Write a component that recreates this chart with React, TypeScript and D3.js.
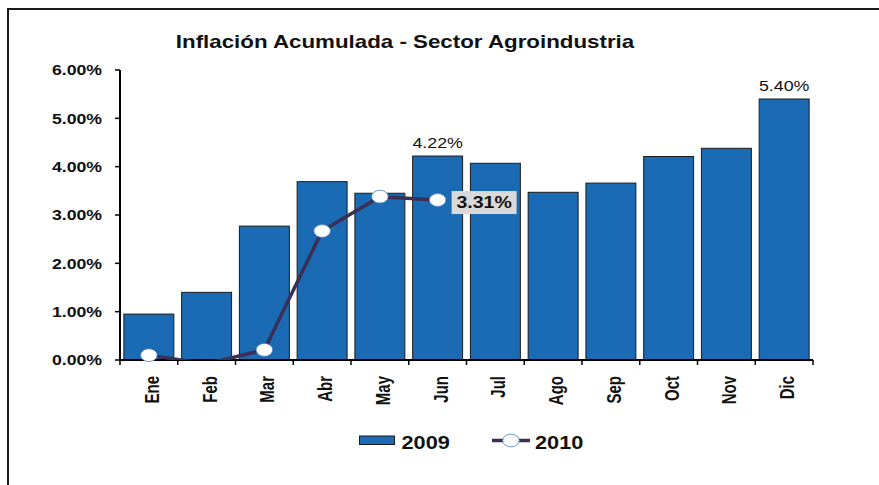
import React from "react";
import * as d3 from "d3";

const months = ["Ene", "Feb", "Mar", "Abr", "May", "Jun", "Jul", "Ago", "Sep", "Oct", "Nov", "Dic"];
const values2009 = [0.95, 1.4, 2.77, 3.69, 3.45, 4.22, 4.07, 3.47, 3.66, 4.21, 4.38, 5.4];
const values2010 = [0.1, -0.08, 0.21, 2.67, 3.38, 3.31];
const yTicks = [0, 1, 2, 3, 4, 5, 6];
const series = ["2009", "2010"];
const title = "Inflación Acumulada - Sector Agroindustria";

const W = 879;
const H = 485;
const FONT = "'Liberation Sans', Arial, Helvetica, sans-serif";
const SX = 1.22;
const BAR = "#1a6ab4";
const LINE = "#3b2f55";

function SText(props: any) {
  const { x, y, sx = SX, anchor = "start", size, weight = "bold", children, dy, fill = "#111" } = props;
  return (
    <text
      transform={`translate(${x},${y}) scale(${sx},1)`}
      textAnchor={anchor}
      fontSize={size}
      fontWeight={weight}
      fontFamily={FONT}
      fill={fill}
      dy={dy}
    >
      {children}
    </text>
  );
}

export default function App() {
  const left = 120, right = 813, top = 70, bottom = 360;
  const x = d3.scaleBand<string>().domain(months).range([left, right]).paddingInner(0.135).paddingOuter(0.067);
  const xb = d3.scaleBand<string>().domain(months).range([left, right]);
  const y = d3.scaleLinear().domain([0, 6]).range([bottom, top]);
  const cx = (m: string) => (xb(m) as number) + xb.bandwidth() / 2;

  const line = d3
    .line<number>()
    .x((_, i) => cx(months[i]))
    .y((d) => y(d));

  const lastIdx = values2010.length - 1;
  const lastX = cx(months[lastIdx]);
  const lastY = y(values2010[lastIdx]);

  return (
    <svg width={W} height={H} style={{ position: "absolute", left: 0, top: 0, background: "#fff" }}>
      <defs>
        <clipPath id="plot">
          <rect x={left} y={0} width={right - left} height={bottom} />
        </clipPath>
      </defs>
      <rect x={0} y={0} width={W} height={H} fill="#fff" />
      {/* frame */}
      <path d={`M8,${H} L8,9 L${W},9`} fill="none" stroke="#1a1a1a" strokeWidth={2} />

      <SText x={405} y={48} anchor="middle" size={18.3}>{title}</SText>

      {/* bars */}
      {values2009.map((v, i) => (
        <rect
          key={months[i]}
          x={x(months[i])}
          y={y(v)}
          width={x.bandwidth()}
          height={y(0) - y(v)}
          fill={BAR}
          stroke="#1b1b1b"
          strokeWidth={1}
        />
      ))}

      {/* axes */}
      <line x1={left} x2={left} y1={top} y2={bottom} stroke="#000" strokeWidth={2} />
      <line x1={left - 1} x2={right} y1={bottom} y2={bottom} stroke="#000" strokeWidth={2} />
      {yTicks.map((t) => (
        <g key={t}>
          <line x1={left - 5} x2={left} y1={y(t)} y2={y(t)} stroke="#000" strokeWidth={1.5} />
          <SText x={102} y={y(t)} dy="0.36em" anchor="end" size={14.5}>{`${t.toFixed(2)}%`}</SText>
        </g>
      ))}
      {months.concat(["_end"]).map((m, i) => {
        const xx = left + i * xb.bandwidth();
        return <line key={m} x1={xx} x2={xx} y1={bottom} y2={bottom + 5} stroke="#000" strokeWidth={1.5} />;
      })}
      {months.map((m) => (
        <text
          key={m}
          transform={`translate(${cx(m) + 3},${376}) scale(1.3,1) rotate(-90)`}
          textAnchor="end"
          dy="0.36em"
          fontSize={15}
          fontWeight="bold"
          fontFamily={FONT}
          fill="#111"
        >
          {m}
        </text>
      ))}

      {/* data labels on bars */}
      {[5, 11].map((i) => (
        <SText key={i} x={cx(months[i])} y={y(values2009[i]) - 8} anchor="middle" size={14.6} weight="normal">
          {`${values2009[i].toFixed(2)}%`}
        </SText>
      ))}

      {/* 2010 line */}
      <g clipPath="url(#plot)">
        <path d={line(values2010) || ""} fill="none" stroke={LINE} strokeWidth={3.5} strokeLinejoin="round" />
      </g>
      {values2010.map((v, i) =>
        v >= 0 ? (
          <ellipse key={i} cx={cx(months[i])} cy={y(v)} rx={8.3} ry={6.4} fill="#fff" stroke="#4f7fc0" strokeWidth={0.8} />
        ) : null
      )}

      {/* last value label */}
      <rect x={lastX + 14} y={lastY - 9} width={65} height={23} fill="#d9d9d9" />
      <SText x={lastX + 14 + 32.5} y={lastY + 2.5} dy="0.36em" anchor="middle" size={16}>
        {`${values2010[lastIdx].toFixed(2)}%`}
      </SText>

      {/* legend */}
      <rect x={359.5} y={436} width={35} height={8.5} fill={BAR} stroke="#1b1b1b" strokeWidth={1} />
      <SText x={401.5} y={448.5} size={17.8}>{series[0]}</SText>
      <line x1={492} x2={530} y1={440.5} y2={440.5} stroke={LINE} strokeWidth={3.5} />
      <ellipse cx={511} cy={440.5} rx={8.3} ry={6.4} fill="#fff" stroke="#4f7fc0" strokeWidth={0.8} />
      <SText x={535} y={448.5} size={17.8}>{series[1]}</SText>
    </svg>
  );
}
